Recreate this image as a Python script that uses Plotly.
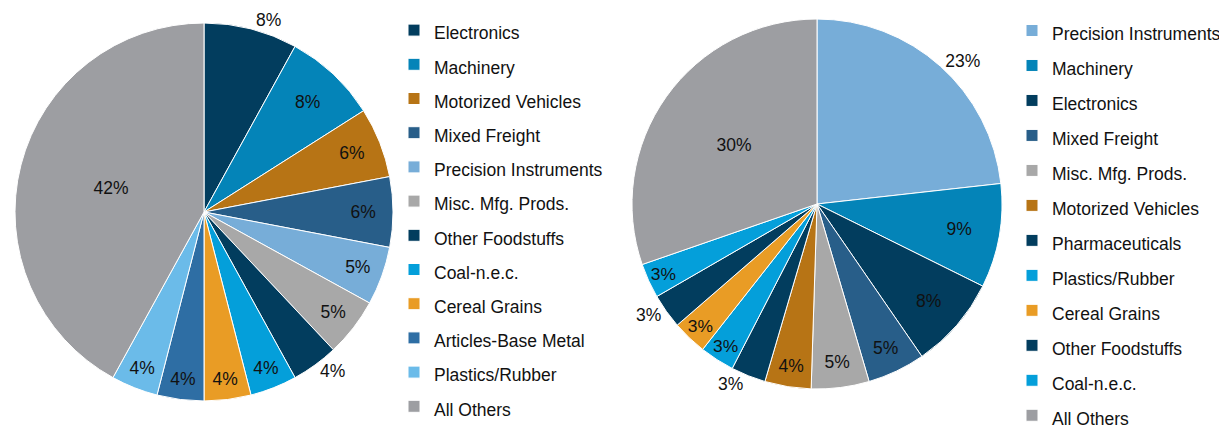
import plotly.graph_objects as go

W, H = 1227, 427
OFF = 8  # page body margin in the browser

left_labels = ["Electronics", "Machinery", "Motorized Vehicles", "Mixed Freight",
               "Precision Instruments", "Misc. Mfg. Prods.", "Other Foodstuffs",
               "Coal-n.e.c.", "Cereal Grains", "Articles-Base Metal",
               "Plastics/Rubber", "All Others"]
left_values = [8, 8, 6, 6, 5, 5, 4, 4, 4, 4, 4, 42]
left_colors = ["#023d5e", "#0484b8", "#b77415", "#285e89", "#77add8", "#a8a8a8",
               "#023d5e", "#049fda", "#e99c25", "#2e6ea4", "#6bbbe9", "#9d9ea2"]
left_textpos = ["outside", "inside", "inside", "inside", "inside", "inside",
                "outside", "inside", "inside", "inside", "inside", "inside"]

right_labels = ["Precision Instruments", "Machinery", "Electronics", "Mixed Freight",
                "Misc. Mfg. Prods.", "Motorized Vehicles", "Pharmaceuticals",
                "Plastics/Rubber", "Cereal Grains", "Other Foodstuffs",
                "Coal-n.e.c.", "All Others"]
right_values = [23, 9, 8, 5, 5, 4, 3, 3, 3, 3, 3, 30]
right_colors = ["#77add8", "#0484b8", "#023d5e", "#285e89", "#a8a8a8", "#b77415",
                "#023d5e", "#049fda", "#e99c25", "#023d5e", "#049fda", "#9d9ea2"]
right_textpos = ["outside", "inside", "inside", "inside", "inside", "inside",
                 "outside", "inside", "inside", "outside", "inside", "inside"]

FONT = "Liberation Sans, Arial, sans-serif"
TXT = 17.5


def span(lbls, tag):
    # distinct markup per legend so both legends list every entry
    return [f'<span style="font-size:{TXT}px;{tag}">{l}</span>' for l in lbls]


def px(x):
    return (x - OFF) / W


def py(y):
    return 1 - (y - OFF) / H


fig = go.Figure()

# left pie
lcx, lcy, lr = 204, 212, 189
fig.add_trace(go.Pie(
    labels=span(left_labels, ""), values=left_values, sort=False, direction="clockwise",
    rotation=0, marker=dict(colors=left_colors, line=dict(color="white", width=1)),
    texttemplate="%{value}%", textposition=left_textpos,
    textfont=dict(family=FONT, size=TXT, color="#111111"),
    insidetextorientation="horizontal",
    domain=dict(x=[px(lcx - lr), px(lcx + lr)], y=[py(lcy + lr), py(lcy - lr)]),
    legend="legend", showlegend=True,
))

# right pie
rcx, rcy, rr = 817, 204, 185
fig.add_trace(go.Pie(
    labels=span(right_labels, " "), values=right_values, sort=False, direction="clockwise",
    rotation=0, marker=dict(colors=right_colors, line=dict(color="white", width=1)),
    texttemplate="%{value}%", textposition=right_textpos,
    textfont=dict(family=FONT, size=TXT, color="#111111"),
    insidetextorientation="horizontal",
    domain=dict(x=[px(rcx - rr), px(rcx + rr)], y=[py(rcy + rr), py(rcy - rr)]),
    legend="legend2", showlegend=True,
))

fig.update_layout(
    width=W, height=H,
    margin=dict(l=0, r=0, t=0, b=0, autoexpand=False),
    paper_bgcolor="white", plot_bgcolor="white",
    font=dict(family=FONT, color="#111111"),
    legend=dict(x=px(394), y=1, xanchor="left", yanchor="top", maxheight=800,
                font=dict(size=24, family=FONT, color="#111111"),
                bgcolor="rgba(0,0,0,0)", traceorder="normal"),
    legend2=dict(x=px(1012), y=1, xanchor="left", yanchor="top", maxheight=800,
                 font=dict(size=24.6, family=FONT, color="#111111"),
                 bgcolor="rgba(0,0,0,0)", traceorder="normal"),
)

fig.write_html("out.html")
